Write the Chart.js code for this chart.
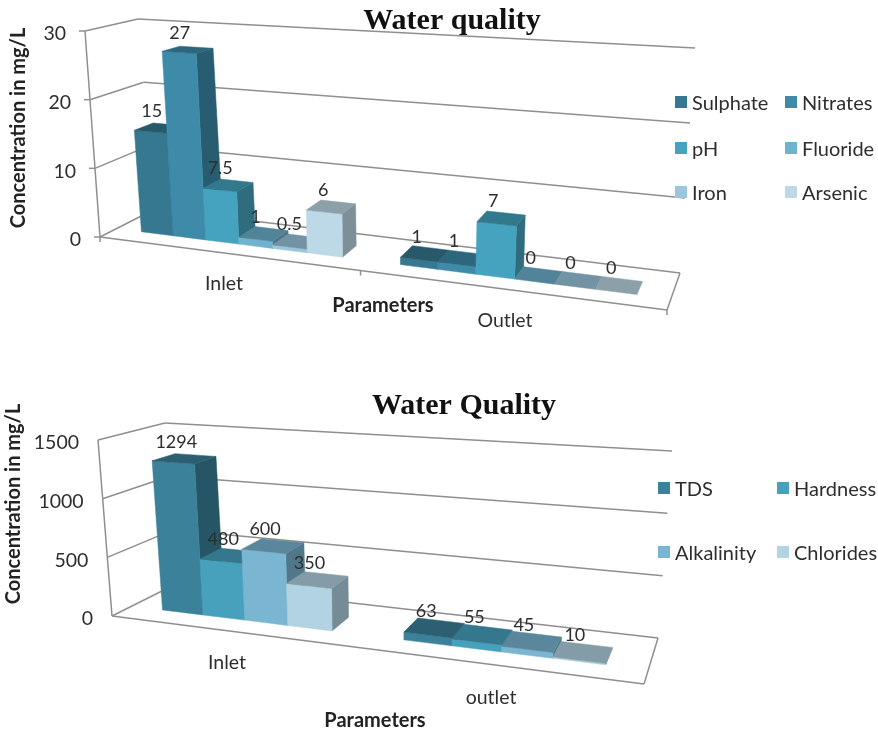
<!DOCTYPE html>
<html>
<head>
<meta charset="utf-8">
<style>
  html, body { margin: 0; padding: 0; background: #fff; }
  #wrap { position: relative; width: 878px; height: 733px; overflow: hidden; }
  canvas { position: absolute; left: 0; filter: blur(0.5px); }
</style>
<script src="https://cdn.jsdelivr.net/npm/chart.js@4/dist/chart.umd.min.js"></script>
</head>
<body>
<div id="wrap">
  <canvas id="top" width="878" height="366" style="top:0"></canvas>
  <canvas id="bottom" width="878" height="367" style="top:366px"></canvas>
</div>
<script>
// Top chart data
const topCategories = ['Inlet', 'Outlet'];
const topSeries = ['Sulphate', 'Nitrates', 'pH', 'Fluoride', 'Iron', 'Arsenic'];
const sulphate = [15, 1];
const nitrates = [27, 1];
const ph = [7.5, 7];
const fluoride = [1, 0];
const iron = [0.5, 0];
const arsenic = [6, 0];
const topColors = ['#35788f', '#3d8ba9', '#45a3bf', '#6fb3cf', '#9ac7dd', '#bdd8e6'];

// Bottom chart data
const bottomCategories = ['Inlet', 'outlet'];
const bottomSeries = ['TDS', 'Hardness', 'Alkalinity', 'Chlorides'];
const tds = [1294, 63];
const hardness = [480, 55];
const alkalinity = [600, 45];
const chlorides = [350, 10];
const bottomColors = ['#3a8199', '#47a1bd', '#7ab6d1', '#b2d3e1'];

const LABEL_FONT = '"Lato", "Open Sans", sans-serif';
const TEXT = '#2e2e2e';
const LINE = '#8f8f8f';

// Corners of the 3D box in page pixels: [front/back][left/right], bottom and top
const topLayout = {
  pageTop: 0, warp: 0.85, depth: [0.3, 0.66], tickMarks: true,
  fl: [[100, 237], [85, 31]], fr: [[667, 310], [684, 67]],
  bl: [[155, 209], [138, 19]], br: [[680, 273], [695, 48]],
  title: ['Water quality', 452, 21], categoryPos: [[224, 284], [505, 321]],
  axisTitleY: [19, 128], axisTitleX: [383, 306],
  legendX: [675, 785], legendY: [102, 148, 192],
};
const bottomLayout = {
  pageTop: 366, warp: 0.84, depth: [0.3, 0.66], tickMarks: false,
  fl: [[112, 616], [98, 440]], fr: [[644, 684], [659, 480]],
  bl: [[178, 583], [165, 423]], br: [[658, 638], [672, 451]],
  title: ['Water Quality', 464, 406], categoryPos: [[227, 663], [491, 698]],
  axisTitleY: [14, 504], axisTitleX: [375, 721],
  legendX: [658, 777], legendY: [488, 552],
};

function lerp(a, b, t) { return [a[0] + (b[0] - a[0]) * t, a[1] + (b[1] - a[1]) * t]; }

function shade(hex, k) {
  const n = parseInt(hex.slice(1), 16);
  const c = [(n >> 16) & 255, (n >> 8) & 255, n & 255].map((x) => Math.round(x * k));
  return `rgb(${c.join(',')})`;
}

// u, v, d all 0..1: along the categories, up the values, into the depth
function project(lay, u, v, d) {
  const w = lay.warp * u / (1 + (lay.warp - 1) * u);
  const left = lerp(lerp(lay.fl[0], lay.fl[1], v), lerp(lay.bl[0], lay.bl[1], v), d);
  const right = lerp(lerp(lay.fr[0], lay.fr[1], v), lerp(lay.br[0], lay.br[1], v), d);
  return lerp(left, right, w);
}

function poly(ctx, pts, fill) {
  ctx.beginPath();
  pts.forEach((p, i) => (i ? ctx.lineTo(p[0], p[1]) : ctx.moveTo(p[0], p[1])));
  ctx.closePath();
  ctx.fillStyle = fill;
  ctx.strokeStyle = fill;
  ctx.lineWidth = 0.5;
  ctx.fill();
  ctx.stroke();
}

function segment(ctx, a, b) {
  ctx.beginPath();
  ctx.moveTo(a[0], a[1]);
  ctx.lineTo(b[0], b[1]);
  ctx.stroke();
}

function drawFrame(ctx, chart, lay) {
  const yScale = chart.scales.y;
  const span = yScale.max - yScale.min;
  ctx.strokeStyle = LINE;
  ctx.lineWidth = 1.5;
  segment(ctx, project(lay, 0, 0, 0), project(lay, 0, 1, 0));
  segment(ctx, project(lay, 0, 0, 0), project(lay, 1, 0, 0));
  segment(ctx, project(lay, 1, 0, 0), project(lay, 1, 0, 1));
  yScale.ticks.forEach((t) => {
    const v = (t.value - yScale.min) / span;
    segment(ctx, project(lay, 0, v, 0), project(lay, 0, v, 1));
    segment(ctx, project(lay, 0, v, 1), project(lay, 1, v, 1));
    if (lay.tickMarks) {
      const p = project(lay, 0, v, 0);
      segment(ctx, [p[0] - 6, p[1]], p);
    }
  });
  if (lay.tickMarks) {
    [0, 0.5, 1].forEach((u) => {
      const p = project(lay, u, 0, 0);
      segment(ctx, p, [p[0], p[1] + 5]);
    });
  }
}

function drawBars(ctx, chart, lay) {
  const area = chart.chartArea;
  const [d0, d1] = lay.depth;
  chart.data.datasets.forEach((ds, i) => {
    chart.getDatasetMeta(i).data.forEach((bar) => {
      const u0 = (bar.x - bar.width / 2 - area.left) / area.width;
      const u1 = (bar.x + bar.width / 2 - area.left) / area.width;
      const v = (area.bottom - bar.y) / area.height;
      const col = ds.backgroundColor;
      if (v > 0) {
        poly(ctx, [project(lay, u1, 0, d0), project(lay, u1, 0, d1), project(lay, u1, v, d1), project(lay, u1, v, d0)], shade(col, 0.66));
        poly(ctx, [project(lay, u0, 0, d0), project(lay, u1, 0, d0), project(lay, u1, v, d0), project(lay, u0, v, d0)], col);
      }
      poly(ctx, [project(lay, u0, v, d0), project(lay, u1, v, d0), project(lay, u1, v, d1), project(lay, u0, v, d1)], shade(col, 0.74));
    });
  });
}

function drawText(ctx, chart, lay) {
  const yScale = chart.scales.y;
  const xScale = chart.scales.x;
  const area = chart.chartArea;
  ctx.fillStyle = TEXT;
  ctx.textBaseline = 'middle';

  // value labels
  ctx.font = `18px ${LABEL_FONT}`;
  ctx.textAlign = 'center';
  chart.data.datasets.forEach((ds, i) => {
    chart.getDatasetMeta(i).data.forEach((bar, j) => {
      const u = (bar.x - area.left) / area.width;
      const v = (area.bottom - bar.y) / area.height;
      const p = project(lay, u, v, (lay.depth[0] + lay.depth[1]) / 2);
      ctx.fillText(String(ds.data[j]), p[0] - 8, p[1] - 17);
    });
  });

  // value axis ticks
  ctx.font = `19.5px ${LABEL_FONT}`;
  ctx.textAlign = 'right';
  yScale.ticks.forEach((t) => {
    const p = project(lay, 0, (t.value - yScale.min) / (yScale.max - yScale.min), 0);
    ctx.fillText(String(t.value), p[0] - 19, p[1] + 3);
  });

  // category labels
  ctx.textAlign = 'center';
  xScale.getLabels().forEach((name, i) => {
    ctx.fillText(name, lay.categoryPos[i][0], lay.categoryPos[i][1]);
  });

  // legend, two columns
  ctx.font = `20px ${LABEL_FONT}`;
  ctx.textAlign = 'left';
  chart.data.datasets.forEach((ds, i) => {
    const x = lay.legendX[i % 2];
    const y = lay.legendY[Math.floor(i / 2)];
    ctx.fillStyle = ds.backgroundColor;
    ctx.fillRect(x, y - 6, 12, 12);
    ctx.fillStyle = TEXT;
    ctx.fillText(ds.label, x + 17, y + 2);
  });

  // axis titles
  ctx.font = `bold 20px ${LABEL_FONT}`;
  ctx.fillStyle = '#222';
  ctx.textAlign = 'center';
  ctx.fillText('Parameters', lay.axisTitleX[0], lay.axisTitleX[1]);
  ctx.save();
  ctx.translate(lay.axisTitleY[0], lay.axisTitleY[1]);
  ctx.rotate(-Math.PI / 2);
  ctx.fillText('Concentration in mg/L', 0, 0);
  ctx.restore();

  // title
  ctx.font = 'bold 30px "Liberation Serif", serif';
  ctx.fillStyle = '#111';
  ctx.fillText(lay.title[0], lay.title[1], lay.title[2]);
}

const box3d = {
  id: 'box3d',
  beforeDatasetsDraw(chart) {
    const lay = chart.options.plugins.box3d.layout;
    const ctx = chart.ctx;
    ctx.save();
    ctx.translate(0, -lay.pageTop);
    drawFrame(ctx, chart, lay);
    drawBars(ctx, chart, lay);
    drawText(ctx, chart, lay);
    ctx.restore();
    return false; // flat bars are replaced by the boxes above
  },
};

function makeChart(id, categories, names, values, colors, max, step, layout, catPct) {
  return new Chart(document.getElementById(id), {
    type: 'bar',
    plugins: [box3d],
    data: {
      labels: categories,
      datasets: names.map((name, i) => ({
        label: name,
        data: values[i],
        backgroundColor: colors[i],
      })),
    },
    options: {
      responsive: false,
      animation: false,
      events: [],
      categoryPercentage: catPct,
      barPercentage: 1,
      layout: { padding: 0 },
      plugins: { legend: { display: false }, tooltip: { enabled: false }, box3d: { layout } },
      scales: {
        x: { display: false },
        y: { display: false, min: 0, max, ticks: { stepSize: step } },
      },
    },
  });
}

makeChart('top', topCategories, topSeries, [sulphate, nitrates, ph, fluoride, iron, arsenic], topColors, 30, 10, topLayout, 0.79);
makeChart('bottom', bottomCategories, bottomSeries, [tds, hardness, alkalinity, chlorides], bottomColors, 1500, 500, bottomLayout, 0.72);
</script>
</body>
</html>
